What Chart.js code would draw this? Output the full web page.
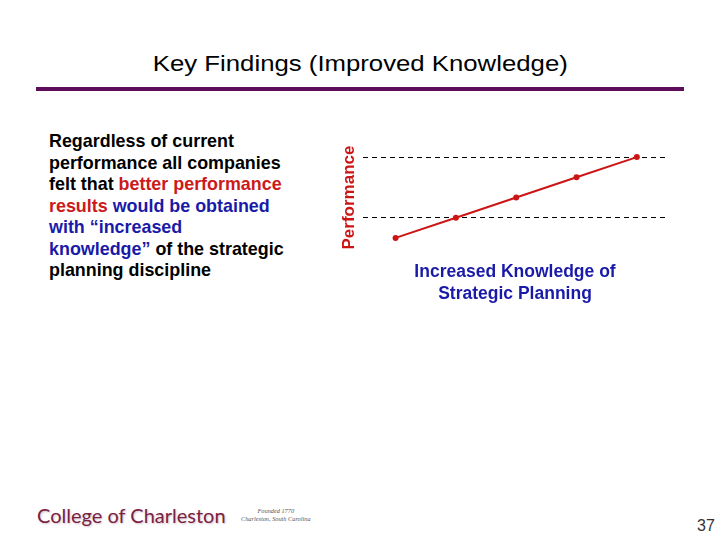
<!DOCTYPE html>
<html>
<head>
<meta charset="utf-8">
<script src="https://cdn.jsdelivr.net/npm/chart.js@4.4.1/dist/chart.umd.min.js"></script>
<style>
  html, body { margin: 0; padding: 0; background: #fff; }
  body { width: 720px; height: 540px; position: relative; overflow: hidden; font-family: "Liberation Sans", Arial, sans-serif; }
  #title { position: absolute; left: 0; width: 720px; top: 51px; text-align: center; }
  #title span { display: inline-block; font-size: 22px; color: #000; transform: scaleX(1.17); transform-origin: center; }
  #rule { position: absolute; left: 36px; width: 648px; top: 87px; height: 4px; background: #5e0c5c; }
  #note { position: absolute; left: 49px; top: 131px; width: 260px; font-size: 17.9px; font-weight: bold; line-height: 21.5px; color: #000; white-space: nowrap; }
  .red { color: #cc1a1a; }
  .blue { color: #1a1aa8; }
  #wrap { position: absolute; left: 330px; top: 121px; width: 341px; height: 184px; }
  #logo { position: absolute; left: 37px; top: 503px; font-family: "Lato", sans-serif; font-size: 20px; color: #7a2142; text-shadow: 1px 1px 2px #d2c2c8; }
  #founded { position: absolute; left: 241px; top: 507px; font-family: "Liberation Serif", serif; font-style: italic; font-size: 6.3px; line-height: 8px; color: #555; text-align: center; }
  #page { position: absolute; left: 697px; top: 517px; font-size: 16px; color: #333; }
</style>
</head>
<body>
<div id="title"><span>Key Findings (Improved Knowledge)</span></div>
<div id="rule"></div>
<div id="note">Regardless of current<br>performance all companies<br>felt that <span class="red">better performance</span><br><span class="red">results</span> <span class="blue">would be obtained</span><br><span class="blue">with “increased</span><br><span class="blue">knowledge”</span> of the strategic<br>planning discipline</div>
<div id="wrap"><canvas id="chart"></canvas></div>
<div id="logo">College of Charleston</div>
<div id="founded">Founded 1770<br>Charleston, South Carolina</div>
<div id="page">37</div>
<script>
// knowledge level (x) and performance (y)
const knowledge = [1, 2, 3, 4, 5];
const performance = [1, 2, 3, 4, 5];
// the two dashed reference levels
const gridLevels = [2, 5];
const xTitle = ["Increased Knowledge of", "Strategic Planning"];
const yTitle = "Performance";

const ctx = document.getElementById("chart");

new Chart(ctx, {
    type: "line",
    data: {
        datasets: [{
            data: knowledge.map((k, i) => ({ x: k, y: performance[i] })),
            borderColor: "#cc1515",
            backgroundColor: "#cc1515",
            borderWidth: 2,
            pointRadius: 2,
            pointHoverRadius: 2,
            tension: 0
        }]
    },
    options: {
        responsive: true,
        maintainAspectRatio: false,
        animation: false,
        layout: { padding: { top: 26, left: 0, right: 0, bottom: 0 } },
        plugins: {
            legend: { display: false },
            tooltip: { enabled: false }
        },
        scales: {
            x: {
                type: "linear",
                min: 0.46,
                max: 5.5,
                grid: { display: false },
                border: { display: false },
                ticks: { display: false },
                title: {
                    display: true,
                    text: xTitle,
                    color: "#1a1aa8",
                    font: { family: "Liberation Sans", size: 17.5, weight: "bold", lineHeight: 22 / 17.5 },
                    padding: { top: 0, bottom: 0 }
                },
                afterFit(scale) { scale.height = 57; }
            },
            y: {
                min: 0.5,
                max: 5.5,
                afterBuildTicks(scale) {
                    scale.ticks = gridLevels.map(v => ({ value: v }));
                },
                grid: {
                    color: "#000",
                    lineWidth: 1,
                    drawTicks: false
                },
                border: { display: false, dash: [5, 4] },
                ticks: { display: false },
                title: {
                    display: true,
                    text: yTitle,
                    color: "#cc1515",
                    font: { family: "Liberation Sans", size: 17, weight: "bold", lineHeight: 1.2 },
                    padding: { top: 9, bottom: 0 }
                },
                afterFit(scale) { scale.width = 33; }
            }
        }
    }
});
</script>
</body>
</html>
